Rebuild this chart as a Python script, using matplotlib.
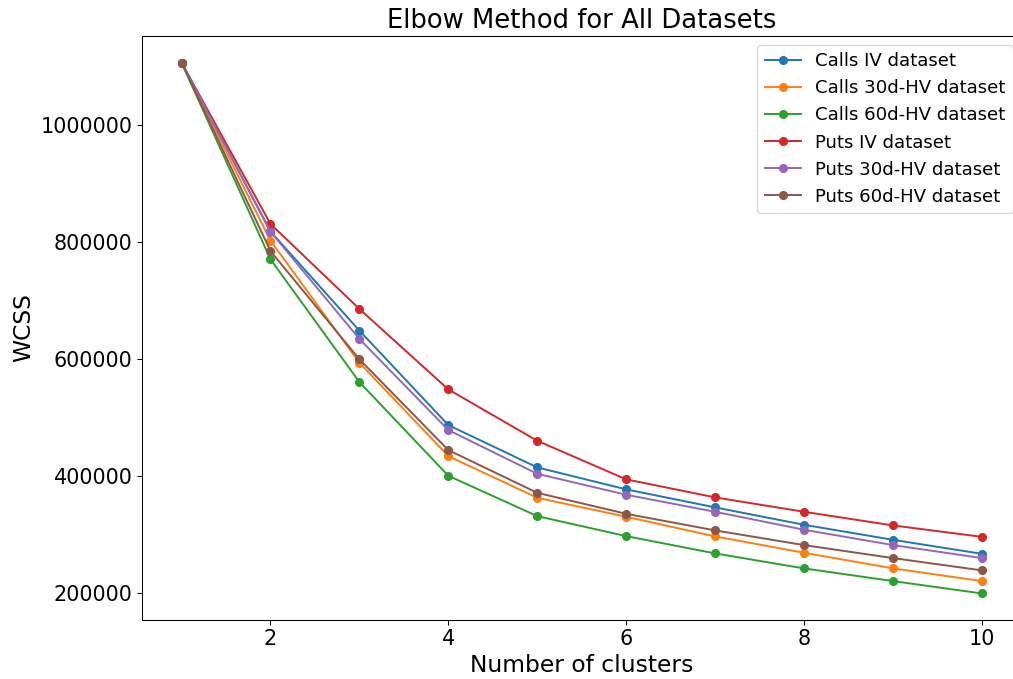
import matplotlib
matplotlib.use("Agg")
import matplotlib.pyplot as plt

clusters = [1, 2, 3, 4, 5, 6, 7, 8, 9, 10]

calls_iv = [1106500, 818000, 648500, 487100, 414800, 377300, 346500, 316800, 291100, 267200]
calls_30d = [1106500, 802300, 593700, 434100, 362900, 330500, 296900, 269000, 242300, 220600]
calls_60d = [1106500, 770400, 560600, 400500, 331600, 297400, 267900, 242300, 220600, 199500]
puts_iv = [1106500, 830800, 685500, 548100, 460300, 394400, 363600, 339000, 315700, 296200]
puts_30d = [1106500, 817600, 634300, 478600, 403900, 368100, 339000, 308300, 282100, 259900]
puts_60d = [1106500, 784600, 599500, 444400, 371400, 335600, 307200, 282100, 259900, 238900]

series = [
    ("Calls IV dataset", calls_iv),
    ("Calls 30d-HV dataset", calls_30d),
    ("Calls 60d-HV dataset", calls_60d),
    ("Puts IV dataset", puts_iv),
    ("Puts 30d-HV dataset", puts_30d),
    ("Puts 60d-HV dataset", puts_60d),
]

DPI = 93.3
W, H = 1013, 679
fig = plt.figure(figsize=(W / DPI, H / DPI), dpi=DPI)
left, right, top, bottom = 141.5, 1022, 36, 620
ax = fig.add_axes([left / W, (H - bottom) / H, (right - left) / W, (bottom - top) / H])

for label, vals in series:
    ax.plot(clusters, vals, marker='o', label=label)

ax.set_title("Elbow Method for All Datasets", fontsize=20)
ax.set_xlabel("Number of clusters", fontsize=18)
ax.set_ylabel("WCSS", fontsize=18)
ax.tick_params(axis='both', labelsize=16)
ax.ticklabel_format(style='plain', axis='y')
ax.legend(fontsize=14, loc='upper right')

fig.savefig("out.png", dpi=DPI)
